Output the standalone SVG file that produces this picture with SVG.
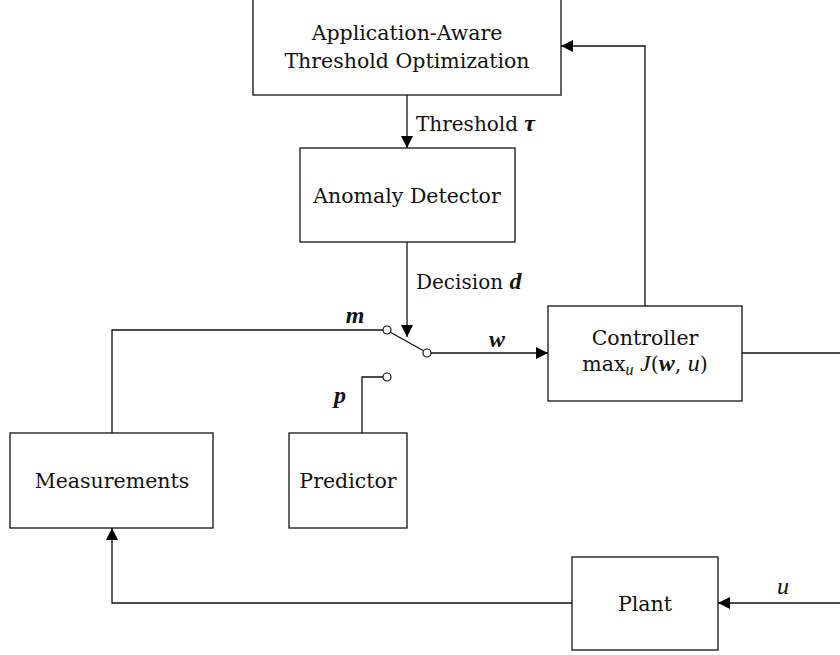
<svg xmlns="http://www.w3.org/2000/svg" width="840" height="655" viewBox="0 0 840 655">
  <style>
    .box { fill: #fff; stroke: #111; stroke-width: 1.3; }
    .wire { fill: none; stroke: #111; stroke-width: 1.3; }
    .pin { fill: #fff; stroke: #111; stroke-width: 1.2; }
    text { font-family: 'DejaVu Serif', 'Liberation Serif', serif; font-size: 20.5px; fill: #111; }
    .c { text-anchor: middle; }
    .bm { font-family: 'Liberation Serif', serif; font-weight: bold; font-style: italic; font-size: 24px; }
    .it { font-family: 'Liberation Serif', serif; font-style: italic; font-size: 24px; }
  </style>
  <defs>
    <marker id="arr" viewBox="0 0 12 12" refX="12" refY="6" markerWidth="12" markerHeight="12" markerUnits="userSpaceOnUse" orient="auto">
      <path d="M0,0 L12,6 L0,12 z" fill="#000"/>
    </marker>
  </defs>

  <!-- connectors, switch contacts and signal labels -->
  <g id="connectors">
    <line class="wire" x1="407" y1="95" x2="407" y2="148" marker-end="url(#arr)"/>
    <line class="wire" x1="407" y1="242" x2="407" y2="337" marker-end="url(#arr)"/>
    <polyline class="wire" points="112,433 112,330 383,330"/>
    <polyline class="wire" points="362,433 362,377 383,377"/>
    <line class="wire" x1="390" y1="332" x2="424" y2="351"/>
    <line class="wire" x1="431" y1="353" x2="548" y2="353" marker-end="url(#arr)"/>
    <polyline class="wire" points="645,306 645,46 561,46" marker-end="url(#arr)"/>
    <line class="wire" x1="742" y1="353" x2="840" y2="353"/>
    <line class="wire" x1="840" y1="603" x2="718" y2="603" marker-end="url(#arr)"/>
    <polyline class="wire" points="572,603 112,603 112,528" marker-end="url(#arr)"/>
    <circle class="pin" cx="387" cy="330" r="4"/>
    <circle class="pin" cx="427" cy="353" r="4"/>
    <circle class="pin" cx="387" cy="377" r="4"/>
    <text x="416" y="131" style="font-size:20px">Threshold <tspan class="bm">τ</tspan></text>
    <text x="416" y="289" style="font-size:20px">Decision <tspan class="bm">d</tspan></text>
    <text class="bm c" x="355" y="323">m</text>
    <text class="bm c" x="340" y="403">p</text>
    <text class="bm c" x="497" y="347">w</text>
    <text class="it c" x="783" y="594">u</text>
  </g>

  <g id="threshold-opt">
    <rect class="box" x="253" y="-2" width="308" height="97"/>
    <text class="c" x="407" y="40">Application-Aware</text>
    <text class="c" x="407" y="68">Threshold Optimization</text>
  </g>

  <g id="anomaly-detector">
    <rect class="box" x="300" y="148" width="215" height="94"/>
    <text class="c" x="407" y="203">Anomaly Detector</text>
  </g>

  <g id="controller">
    <rect class="box" x="548" y="306" width="194" height="95"/>
    <text class="c" x="645" y="345">Controller</text>
    <text class="c" x="645" y="371">max<tspan dy="4" class="it" style="font-size:16px">u</tspan><tspan dy="-4"> </tspan><tspan class="it">J</tspan>(<tspan class="bm">w</tspan>, <tspan class="it">u</tspan>)</text>
  </g>

  <g id="measurements">
    <rect class="box" x="10" y="433" width="203" height="95"/>
    <text class="c" x="112" y="488">Measurements</text>
  </g>

  <g id="predictor">
    <rect class="box" x="289" y="433" width="118" height="95"/>
    <text class="c" x="348" y="488">Predictor</text>
  </g>

  <g id="plant">
    <rect class="box" x="572" y="557" width="146" height="93"/>
    <text class="c" x="645" y="611">Plant</text>
  </g>
</svg>
